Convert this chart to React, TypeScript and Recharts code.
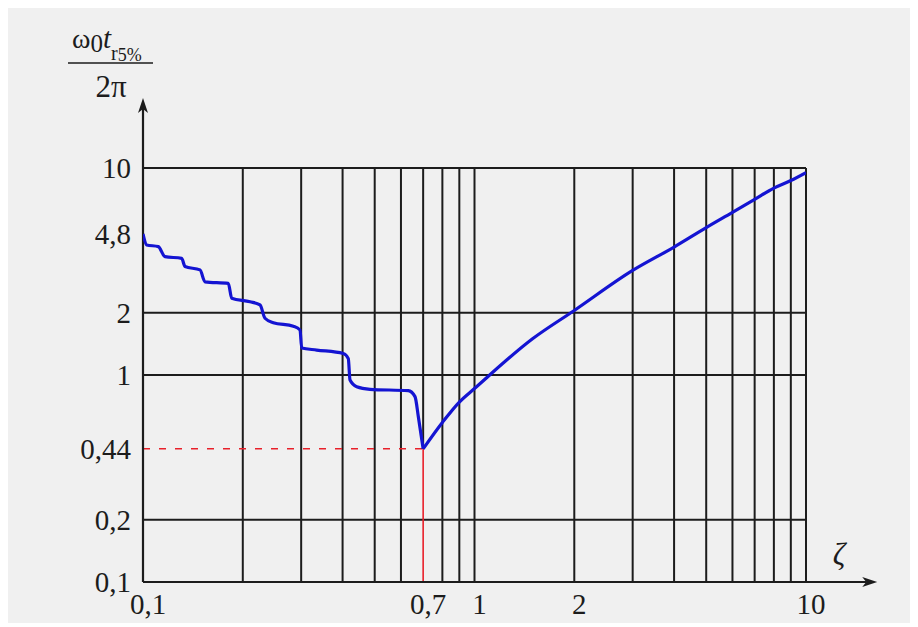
import React from 'react';
import { LineChart, Line, XAxis, YAxis, ReferenceLine } from 'recharts';

// Left branch (ζ ≤ 0.7): stair-shaped decrease
const leftZeta = [
  0.1, 0.1026, 0.1112, 0.1165, 0.1308, 0.1339, 0.1486, 0.1538, 0.1808, 0.1852,
  0.2103, 0.2254, 0.2333, 0.2472, 0.2841, 0.2976, 0.3011, 0.3342, 0.402, 0.4162,
  0.4212, 0.4412, 0.4838, 0.6314, 0.6615, 0.677, 0.7,
];
const leftT = [
  4.8, 4.25, 4.17, 3.73, 3.66, 3.34, 3.22, 2.82, 2.77, 2.35,
  2.26, 2.18, 1.88, 1.79, 1.72, 1.65, 1.35, 1.32, 1.27, 1.2,
  0.946, 0.878, 0.853, 0.84, 0.786, 0.629, 0.44,
];
// Right branch (ζ ≥ 0.7): smooth increase
const rightZeta = [0.7, 0.8, 0.9, 1, 1.5, 2, 3, 4, 5, 6, 7, 8, 9, 10];
const rightT = [0.44, 0.59, 0.74, 0.86, 1.5, 2.05, 3.2, 4.15, 5.15, 6.1, 7.05, 8.0, 8.7, 9.5];

const xTicks = [0.1, 0.7, 1, 2, 10];
const yTicks = [0.1, 0.2, 0.44, 1, 2, 4.8, 10];
const gridX = [0.2, 0.3, 0.4, 0.5, 0.6, 0.8, 0.9, 1, 2, 3, 4, 5, 6, 7, 8, 9, 10];
const gridY = [0.2, 1, 2, 10];
const minPoint = { zeta: 0.7, t: 0.44 };
const xArrowEnd = 16.4;
const yArrowEnd = 21.8;

const leftData = leftZeta.map((z, i) => ({ zeta: z, t: leftT[i] }));
const rightData = rightZeta.map((z, i) => ({ zeta: z, t: rightT[i] }));

const fmt = (v: number) => String(v).replace('.', ',');

const FONT = '"Liberation Serif", "DejaVu Serif", serif';
const INK = '#1c1c1c';
const BLUE = '#1414d2';

const XTick = (props: any) => {
  const { x, y, payload } = props;
  return (
    <text x={x + 5} y={y} dy="0.71em" textAnchor="middle" fontFamily={FONT} fontSize={29} fill={INK}>
      {fmt(payload.value)}
    </text>
  );
};

const YTick = (props: any) => {
  const { x, y, payload } = props;
  return (
    <text x={x} y={y} dy="0.36em" textAnchor="end" fontFamily={FONT} fontSize={29} fill={INK}>
      {fmt(payload.value)}
    </text>
  );
};

const Arrow = (props: any) => {
  const { x1, y1, x2, y2 } = props;
  const dx = x2 - x1;
  const dy = y2 - y1;
  const len = Math.sqrt(dx * dx + dy * dy) || 1;
  const ux = dx / len;
  const uy = dy / len;
  const L = 15;
  const W = 5;
  const bx = x2 - ux * L;
  const by = y2 - uy * L;
  const pts = `${x2},${y2} ${bx - uy * W},${by + ux * W} ${bx + ux * 4},${by + uy * 4} ${bx + uy * W},${by - ux * W}`;
  return (
    <g>
      <line x1={x1} y1={y1} x2={bx + ux * 4} y2={by + uy * 4} stroke={INK} strokeWidth={2.2} />
      <polygon points={pts} fill={INK} />
    </g>
  );
};

const YTitle = (props: any) => {
  const vb = props.viewBox || { x: 0, y: 160, width: 135, height: 414 };
  const right = vb.x + vb.width;
  return (
    <g fontFamily={FONT} fill={INK}>
      <text x={right - 71} y={vb.y - 120} fontSize={28}>
        <tspan>ω</tspan>
        <tspan fontSize={25} dy={4}>0</tspan>
        <tspan fontStyle="italic" fontSize={29} dy={-4}>t</tspan>
        <tspan fontSize={20} dy={12}>r</tspan>
        <tspan fontSize={18} dy={1}>5%</tspan>
      </text>
      <line x1={right - 75} y1={vb.y - 105} x2={right + 10} y2={vb.y - 105} stroke={INK} strokeWidth={1.5} />
      <text x={right - 32} y={vb.y - 71} fontSize={31} textAnchor="middle">2π</text>
    </g>
  );
};

const XTitle = (props: any) => {
  const vb = props.viewBox || { x: 135, y: 574, width: 663, height: 41 };
  return (
    <text x={vb.x + vb.width + 33} y={vb.y - 17} fontFamily={FONT} fontSize={31} fontStyle="italic" fill={INK} textAnchor="middle">
      ζ
    </text>
  );
};

export default function App() {
  return (
    <div style={{ width: 904, height: 615, background: '#f0f0f0' }}>
      <LineChart width={904} height={615} margin={{ top: 160, right: 106, bottom: 0, left: 0 }}>
        <XAxis
          dataKey="zeta"
          type="number"
          scale="log"
          domain={[0.1, 10]}
          ticks={xTicks}
          allowDataOverflow
          axisLine={false}
          tickLine={false}
          tickSize={0}
          tickMargin={11}
          height={41}
          tick={<XTick />}
          interval={0}
          label={{ content: (p: any) => <XTitle {...p} /> }}
        />
        <YAxis
          dataKey="t"
          type="number"
          scale="log"
          domain={[0.1, 10]}
          ticks={yTicks}
          allowDataOverflow
          axisLine={false}
          tickLine={false}
          tickSize={0}
          tickMargin={12}
          width={135}
          tick={<YTick />}
          interval={0}
          label={{ content: (p: any) => <YTitle {...p} /> }}
        />
        {gridX.map((v) => (
          <ReferenceLine key={'gx' + v} x={v} stroke={INK} strokeWidth={2} />
        ))}
        {gridY.map((v) => (
          <ReferenceLine key={'gy' + v} y={v} stroke={INK} strokeWidth={2} />
        ))}
        <ReferenceLine
          segment={[{ x: minPoint.zeta, y: minPoint.t }, { x: minPoint.zeta, y: 10 }]}
          stroke={INK}
          strokeWidth={2}
        />
        <ReferenceLine
          segment={[{ x: minPoint.zeta, y: 0.1 }, { x: minPoint.zeta, y: minPoint.t }]}
          stroke="#e8202a"
          strokeWidth={1.6}
        />
        <ReferenceLine
          segment={[{ x: 0.1, y: minPoint.t }, { x: minPoint.zeta, y: minPoint.t }]}
          stroke="#e8202a"
          strokeWidth={1.6}
          strokeDasharray="7 9"
        />
        <ReferenceLine
          segment={[{ x: 0.1, y: 0.1 }, { x: xArrowEnd, y: 0.1 }]}
          ifOverflow="visible"
          shape={(p: any) => <Arrow {...p} />}
        />
        <ReferenceLine
          segment={[{ x: 0.1, y: 0.1 }, { x: 0.1, y: yArrowEnd }]}
          ifOverflow="visible"
          shape={(p: any) => <Arrow {...p} />}
        />
        <Line
          data={leftData}
          type="monotoneX"
          dataKey="t"
          stroke={BLUE}
          strokeWidth={3.2}
          dot={false}
          isAnimationActive={false}
          strokeLinejoin="round"
        />
        <Line
          data={rightData}
          type="monotoneX"
          dataKey="t"
          stroke={BLUE}
          strokeWidth={3.2}
          dot={false}
          isAnimationActive={false}
          strokeLinejoin="round"
        />
      </LineChart>
    </div>
  );
}
